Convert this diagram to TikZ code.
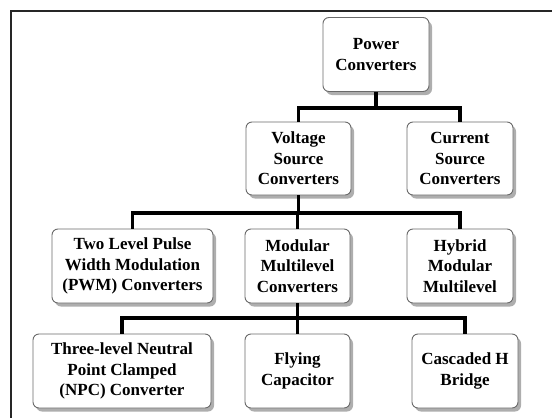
\documentclass[tikz,border=0pt]{standalone}
\usepackage{fontspec}
\setmainfont{Liberation Serif}
\usepackage{tikz}
\usetikzlibrary{positioning,shadows}
\definecolor{BoxEdge}{HTML}{6A6A6A}
\definecolor{BoxShade}{HTML}{8C8C8C}
\tikzset{
  convbox/.style={draw=BoxEdge,line width=0.9pt,fill=white,rounded corners=6pt,
    align=center,inner sep=1pt,minimum height=74pt,
    font=\bfseries\fontsize{17}{20.5}\selectfont,
    drop shadow={shadow xshift=3pt,shadow yshift=-3.5pt,fill=BoxShade,opacity=0.7}},
  link/.style={line width=3.2pt,black}
}

\begin{document}
\begin{tikzpicture}[x=1pt,y=-1pt]
  \useasboundingbox (0,0) rectangle (552,418);
  \draw[line width=1.3pt,black!85] (11,418) -- (11,11) -- (552,11);
  % bars between the levels
  \coordinate (barA) at (0,108);
  \coordinate (barB) at (0,213);
  \coordinate (barC) at (0,318);
  \node[convbox,minimum width=106pt] (pc) at (376,54.5) {Power\\Converters};
  \node[convbox,minimum width=105pt,minimum height=73pt] (vsc) at (298.5,158.5) {Voltage\\Source\\Converters};
  \node[convbox,minimum width=106pt,minimum height=73pt] (csc) at (460,158.5) {Current\\Source\\Converters};
  \node[convbox,minimum width=161pt] (pwm) at (132.5,266) {Two Level Pulse\\Width Modulation\\(PWM) Converters};
  \node[convbox,minimum width=105pt] (mmc) at (297.5,266) {Modular\\Multilevel\\Converters};
  \node[convbox,minimum width=106pt] (hmm) at (460,266) {Hybrid\\Modular\\Multilevel};
  \node[convbox,minimum width=178pt] (npc) at (122,371) {Three-level Neutral\\Point Clamped\\(NPC) Converter};
  \node[convbox,minimum width=105pt] (fc) at (297.5,371) {Flying\\Capacitor};
  \node[convbox,minimum width=106pt] (chb) at (465,371) {Cascaded H\\Bridge};
  % links
  \draw[link] (pc.south) -- (pc.south |- barA);
  \draw[link] (vsc.north) -- (vsc.north |- barA) -| (csc.north);
  \draw[link] (vsc.south) -- (vsc.south |- barB);
  \draw[link] (pwm.north) -- (pwm.north |- barB) -| (hmm.north);
  \draw[link] (mmc.north) -- (mmc.north |- barB);
  \draw[link] (mmc.south) -- (mmc.south |- barC);
  \draw[link] (npc.north) -- (npc.north |- barC) -| (chb.north);
  \draw[link] (fc.north) -- (fc.north |- barC);
\end{tikzpicture}
\end{document}
